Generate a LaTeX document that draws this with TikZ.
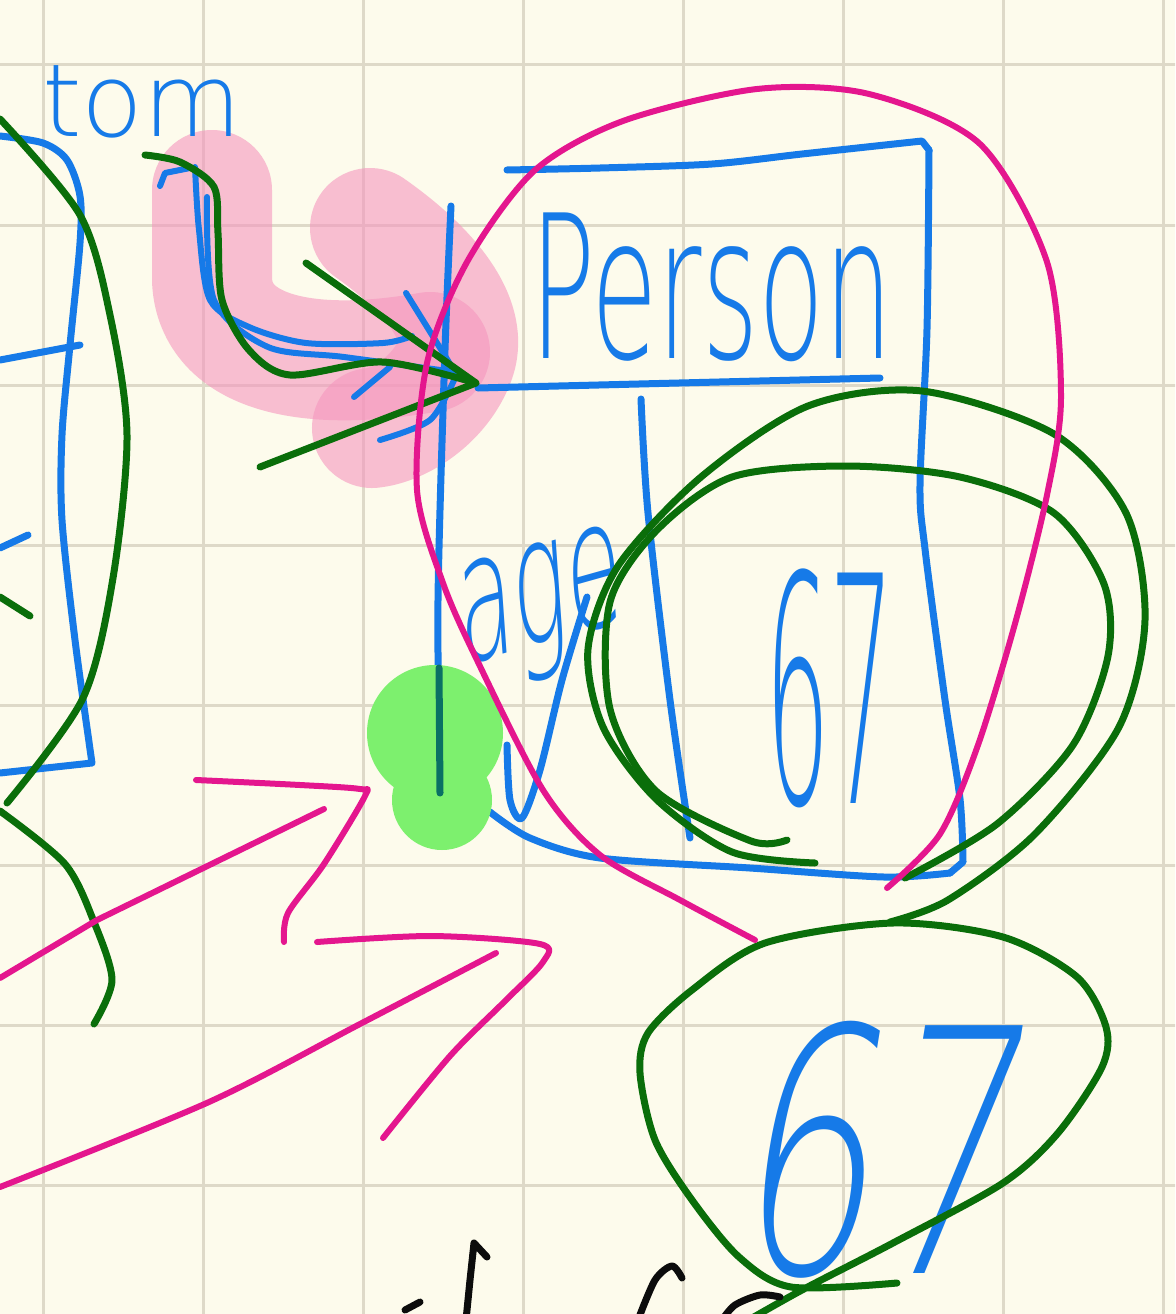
\documentclass[tikz,border=0pt]{standalone}
\usepackage{fontspec}
\setmainfont{DejaVu Sans ExtraLight}
\definecolor{bgc}{RGB}{253,251,236}
\definecolor{gridc}{RGB}{222,217,200}
\definecolor{pblue}{RGB}{22,122,232}
\definecolor{pgreen}{RGB}{10,110,10}
\definecolor{pmag}{RGB}{228,22,142}
\definecolor{lgreen}{RGB}{125,240,110}
\definecolor{teal}{RGB}{10,112,100}
\definecolor{hpink}{RGB}{245,150,190}
\definecolor{pblack}{RGB}{12,12,12}
\begin{document}
\begin{tikzpicture}[x=1pt,y=-1pt,line cap=round,line join=round,
  ink/.style={line width=7pt},
  blueink/.style={ink,draw=pblue},
  greenink/.style={ink,draw=pgreen},
  magink/.style={ink,draw=pmag,line width=6pt},
  blackink/.style={ink,draw=pblack},
  gridline/.style={draw=gridc,line width=3pt},
  hilite/.style={draw=hpink,line width=120pt,opacity=0.6},
  handtext/.style={text=pblue,inner sep=0pt}]
\useasboundingbox (0,0) rectangle (1175,1314);
\clip (0,0) rectangle (1175,1314);
\fill[bgc] (0,0) rectangle (1175,1314);
% grid
\foreach \gx in {43,203,363,523,683,843,1003,1163} \draw[gridline] (\gx,0) -- (\gx,1314);
\foreach \gy in {65,225,385,545,705,865,1025,1185} \draw[gridline] (0,\gy) -- (1175,\gy);
% pink highlighter
\draw[hilite] (212,190) -- (212,280) .. controls (215,350) and (300,375) .. (430,352);
\draw[hilite] (370,228) .. controls (430,270) and (470,320) .. (455,360) .. controls (440,400) and (400,425) .. (372,428);
% left blue box
\draw[blueink] plot[smooth] coordinates {(0,136) (43,143) (67,160) (80,196) (80,243) (70,345) (62,435) (62,520) (75,640) (92,763)} -- (0,773);
\draw[blueink] (0,360) -- (80,345);
\draw[blueink] (0,548) -- (28,535);
% Person box
\draw[blueink] plot[smooth] coordinates {(507,170) (600,168) (712,164) (802,154) (922,141)} -- (929,150);
\draw[blueink] plot[smooth] coordinates {(929,150) (927,329) (920,484) (925,549) (945,700) (960,799) (963,862)} -- (950,873);
\draw[blueink] plot[smooth] coordinates {(950,873) (884,877) (750,868) (600,858) (530,838) (490,812)};
\draw[blueink] plot[smooth] coordinates {(451,206) (445,350) (438,600) (440,793)};
\draw[blueink] (478,388) -- (880,378);
\draw[blueink] plot[smooth] coordinates {(641,399) (648,513) (670,700) (690,838)};
\draw[blueink] plot[smooth] coordinates {(507,745) (510,800) (522,818) (540,770) (562,680) (587,597)};
% texts
\node[handtext,anchor=base west,font=\fontsize{101}{101}\selectfont] (tom) at (42,136) {tom};
\node[handtext,anchor=base west,yscale=1.85,font=\fontsize{108}{108}\selectfont] (person) at (530,358) {Person};
\node[handtext,anchor=base west,yscale=2,rotate=8,font=\fontsize{90}{90}\selectfont] (age) at (462,666) {age};
\node[handtext,anchor=center,yscale=3.1,font=\fontsize{102}{102}\selectfont] (val) at (830,688) {67};
\node[handtext,anchor=center,xscale=1.1,yscale=1.7,xslant=0.25,font=\fontsize{200}{200}\selectfont] (val2) at (888,1150) {67};
% blue arrows from tom
\draw[blueink,line width=6pt] (160,186) -- (165,173) -- (190,168);
\draw[blueink,line width=6pt] plot[smooth] coordinates {(195,167) (199,230) (210,300) (249,327) (306,343) (383,343) (412,336)};
\draw[blueink,line width=6pt] plot[smooth] coordinates {(207,197) (214,300) (268,347) (344,357) (455,372)};
\draw[blueink,line width=6pt] (406,293) -- (455,372);
\draw[blueink,line width=6pt] plot[smooth] coordinates {(380,440) (430,420) (455,378)};
\draw[blueink,line width=6pt] (354,397) -- (390,367);
% green dot
\fill[lgreen] (435,733) circle (68pt);
\fill[lgreen] (442,800) circle (50pt);
\draw[ink,draw=teal] (439,668) -- (440,793);
% green strokes
\draw[greenink] plot[smooth] coordinates {(0,119) (80,215) (110,315) (127,435) (113,578) (83,698) (7,803)};
\draw[greenink] plot[smooth] coordinates {(0,811) (65,864) (94,922) (112,980) (94,1024)};
\draw[greenink] (0,597) -- (30,616);
\draw[greenink] plot[smooth] coordinates {(145,155) (180,162) (214,187) (218,233) (222,300) (249,350) (290,375) (383,362) (476,383)};
\draw[greenink] (306,263) -- (476,383) -- (260,467);
\draw[greenink] plot[smooth] coordinates {(815,863) (732,852) (656,799) (603,727) (588,649) (618,566) (701,477) (808,406) (922,391) (1054,434) (1126,513) (1145,620) (1119,727) (1035,834) (948,900) (890,922)};
\draw[greenink] plot[smooth] coordinates {(787,840) (751,841) (656,791) (610,709) (610,602) (656,531) (732,477) (846,466) (960,477) (1054,513) (1104,584) (1108,656) (1073,745) (997,824) (905,878)};
\draw[greenink] plot[smooth] coordinates {(897,1283) (791,1287) (739,1257) (692,1200) (655,1140) (640,1073) (648,1033) (692,990) (765,943) (893,923) (1003,937) (1077,977) (1106,1027) (1102,1067) (1058,1133) (1003,1183) (893,1243) (802,1290) (740,1325)};
% magenta strokes
\draw[magink] plot[smooth] coordinates {(755,940) (680,900) (600,855) (543,790) (477,660) (443,583) (417,490) (427,363) (467,262) (534,171) (623,121) (757,89) (869,94) (980,144) (1047,262) (1061,397) (1047,495) (1016,620) (978,745) (940,834) (887,888)};
\draw[magink] (0,978) -- (97,920) -- (324,809);
\draw[magink] plot[smooth] coordinates {(196,780) (300,785) (360,789) (365,796) (324,864) (288,913) (284,942)};
\draw[magink] plot[smooth] coordinates {(317,942) (432,936) (540,944) (543,962) (504,1002) (450,1056) (383,1138)};
\draw[magink] plot[smooth] coordinates {(0,1187) (209,1102) (360,1024) (496,953)};
% black strokes at bottom
\draw[blackink] (487,1257) -- (474,1243) -- (470,1280) -- (466,1320);
\draw[blackink] (405,1310) -- (420,1302);
\draw[blackink] plot[smooth] coordinates {(682,1278) (672,1266) (655,1280) (638,1320)};
\draw[blackink] plot[smooth] coordinates {(780,1297) (760,1295) (735,1305) (722,1320)};
\end{tikzpicture}
\end{document}
